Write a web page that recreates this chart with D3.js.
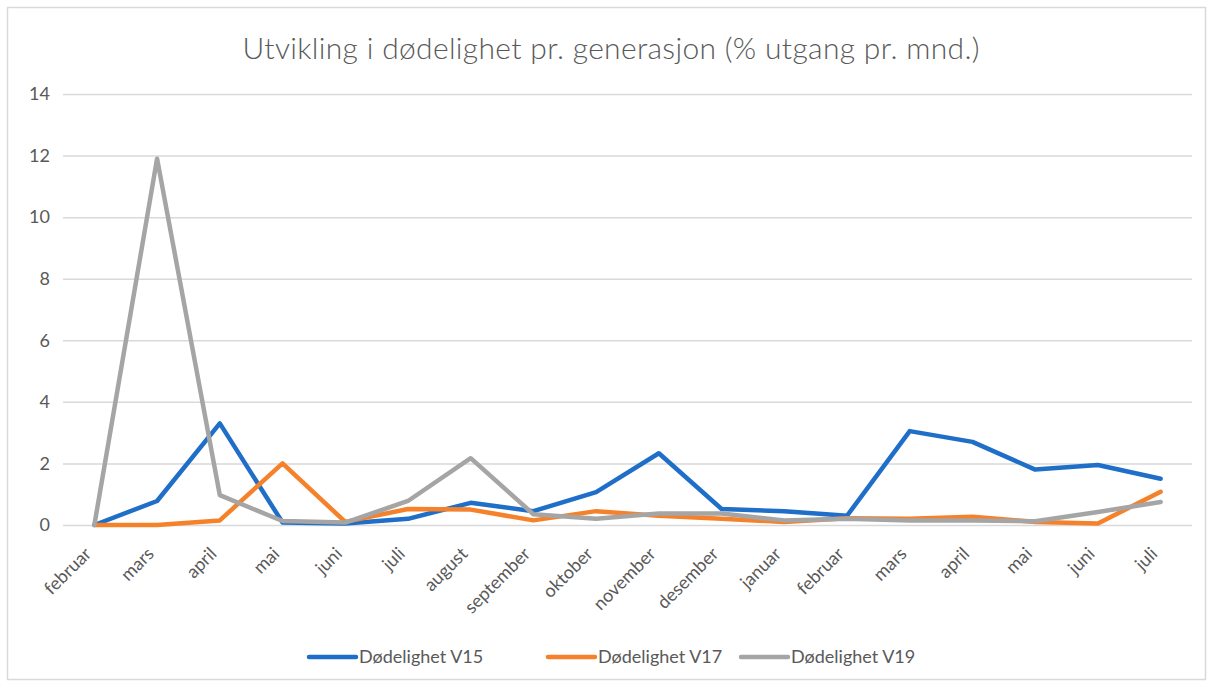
<!DOCTYPE html>
<html><head><meta charset="utf-8">
<script src="https://cdn.jsdelivr.net/npm/d3@7"></script>
<style>body{margin:0;background:#fff}svg{display:block}</style>
</head><body>
<svg id="c" width="1214" height="686"></svg>
<script>
const months = ["februar","mars","april","mai","juni","juli","august","september","oktober","november","desember","januar","februar","mars","april","mai","juni","juli"];
const v15 = [0,0.78,3.3,0.08,0.05,0.2,0.72,0.45,1.07,2.33,0.52,0.45,0.3,3.05,2.7,1.8,1.95,1.5];
const v17 = [0,0,0.15,2.0,0.1,0.52,0.5,0.15,0.45,0.3,0.2,0.1,0.22,0.2,0.27,0.1,0.05,1.08];
const v19 = [0,11.9,0.97,0.13,0.08,0.78,2.17,0.35,0.2,0.37,0.37,0.15,0.2,0.15,0.15,0.12,0.42,0.75];
const yTicks = [0,2,4,6,8,10,12,14];
const seriesNames = ["Dødelighet V15","Dødelighet V17","Dødelighet V19"];
const seriesColors = ["#1f6fc8","#f5822a","#a5a5a5"];
const seriesData = [v15, v17, v19];

const svg = d3.select("#c");
const font = "Lato, 'Open Sans', sans-serif";
svg.append("rect").attr("x",7.5).attr("y",7.5).attr("width",1198).attr("height",672)
  .attr("fill","#fff").attr("stroke","#d9d9d9").attr("stroke-width",1.5);

const L=63, R=1192, T=94, B=525;
const x = d3.scaleBand().domain(d3.range(months.length)).range([L,R]);
const y = d3.scaleLinear().domain([0,14]).range([B,T]);
const cx = i => x(i) + x.bandwidth()/2;

svg.append("text").attr("x",611).attr("y",59).attr("text-anchor","middle")
  .attr("font-family",font).attr("font-weight",300).attr("font-size",30).attr("fill","#595959")
  .attr("textLength",737).attr("lengthAdjust","spacing")
  .text("Utvikling i dødelighet pr. generasjon (% utgang pr. mnd.)");

// gridlines
const yAxis = d3.axisLeft(y).tickValues(yTicks).tickSize(-(R-L)).tickPadding(13);
const gy = svg.append("g").attr("transform",`translate(${L},0)`).call(yAxis);
gy.select(".domain").remove();
gy.selectAll("line").attr("stroke","#d9d9d9").attr("stroke-width",1.5);
gy.selectAll("text").attr("font-family",font).attr("font-size",18).attr("fill","#595959");

// x axis labels
const xAxis = d3.axisBottom(x).tickFormat(i=>months[i]).tickSize(0).tickPadding(0);
const gx = svg.append("g").attr("transform",`translate(0,${B})`).call(xAxis);
gx.select(".domain").remove();
gx.selectAll("text").attr("font-family",font).attr("font-size",18).attr("fill","#595959")
  .attr("text-anchor","end").attr("dy",null).attr("y",0)
  .attr("transform","translate(-2,30) rotate(-45)");

const line = d3.line().x((d,i)=>cx(i)).y(d=>y(d));
seriesData.forEach((s,k)=>{
  svg.append("path").datum(s).attr("d",line).attr("fill","none")
    .attr("stroke",seriesColors[k]).attr("stroke-width",4.5)
    .attr("stroke-linejoin","round").attr("stroke-linecap","round");
});

// legend
const legX = [308, 547, 740];
seriesNames.forEach((n,k)=>{
  const g = svg.append("g").attr("transform",`translate(${legX[k]},657)`);
  g.append("line").attr("x1",1).attr("x2",48).attr("y1",0).attr("y2",0)
    .attr("stroke",seriesColors[k]).attr("stroke-width",4.5).attr("stroke-linecap","round");
  g.append("text").attr("x",51).attr("y",6).attr("font-family",font).attr("font-size",18)
    .attr("fill","#595959").text(n);
});
</script>
</body></html>
